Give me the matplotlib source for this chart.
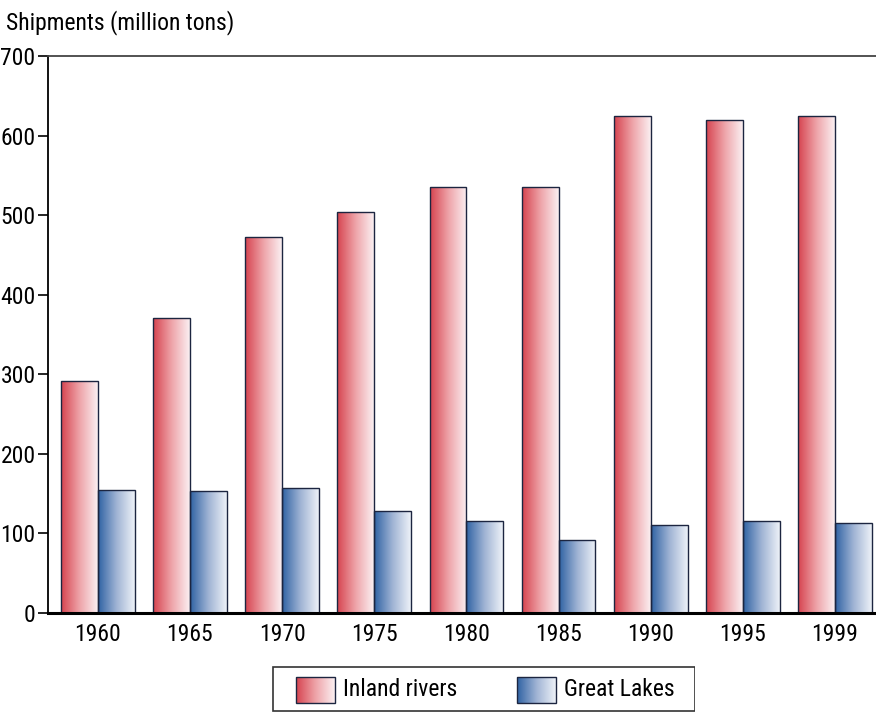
import numpy as np
import matplotlib
matplotlib.use("Agg")
import matplotlib.pyplot as plt
from matplotlib import font_manager
from matplotlib.colors import LinearSegmentedColormap
from matplotlib.patches import Rectangle

# pick a narrow sans face if one is around
installed = {f.name for f in font_manager.fontManager.ttflist}
narrow = [n for n in ['Liberation Sans Narrow', 'Roboto Condensed', 'DejaVu Sans Condensed',
                      'Open Sans Condensed', 'Arial Narrow'] if n in installed]
base = narrow[0] if narrow else 'Roboto'
plt.rcParams['font.family'] = [base, 'DejaVu Sans']
fs = 17 if narrow else 15

# data
years = ['1960', '1965', '1970', '1975', '1980', '1985', '1990', '1995', '1999']
inland_rivers = [291, 371, 472, 504, 535, 535, 624, 620, 625]
great_lakes = [154, 153, 157, 128, 115, 92, 110, 116, 113]
series_names = ['Inland rivers', 'Great Lakes']

red_cmap = LinearSegmentedColormap.from_list('red_grad', ['#d6434f', '#eea3a8', '#fbf0f2'])
blue_cmap = LinearSegmentedColormap.from_list('blue_grad', ['#2f62a3', '#9fb3d4', '#eef2f8'])
grad = np.linspace(0, 1, 256).reshape(1, -1)

fig = plt.figure(figsize=(8.76, 7.12), dpi=100)
ax = fig.add_axes([48 / 876, 99 / 712, 1 - 48 / 876, 557 / 712])

x = np.arange(len(years))
w = 0.4


def gradient_bars(xpos, vals, cmap):
    bars = ax.bar(xpos, vals, width=w, facecolor='none', edgecolor='#1c2540',
                  linewidth=1.0, zorder=3)
    for b in bars:
        x0, y0 = b.get_x(), b.get_y()
        im = ax.imshow(grad, cmap=cmap, extent=[x0, x0 + b.get_width(), y0, y0 + b.get_height()],
                       aspect='auto', interpolation='bilinear', zorder=2)
        im.set_clip_path(b)
    return bars


gradient_bars(x - w / 2, inland_rivers, red_cmap)
gradient_bars(x + w / 2, great_lakes, blue_cmap)

ax.set_xlim(-0.54, 8.445)
ax.set_ylim(0, 700)
ax.set_yticks(range(0, 701, 100))
ax.set_xticks(x)
ax.set_xticklabels(years)
ax.tick_params(axis='x', length=0, pad=7, labelsize=fs)
ax.tick_params(axis='y', direction='out', length=7, width=1.2, pad=2, labelsize=fs)

ax.spines['right'].set_visible(False)
ax.spines['top'].set_color('#444444')
ax.spines['top'].set_linewidth(1.3)
ax.spines['left'].set_linewidth(1.3)
ax.spines['bottom'].set_linewidth(2.2)
ax.spines['bottom'].set_zorder(4)

fig.text(6 / 876, 1 - 23 / 712, 'Shipments (million tons)', fontsize=fs, va='center', ha='left')

# legend box along the bottom
lax = fig.add_axes([272 / 876, 0, (695 - 272) / 876, 46 / 712])
lax.axis('off')
lax.add_patch(Rectangle((272.5, 667), 422, 44, facecolor='white', edgecolor='#333333', linewidth=1.2))
for (px, cmap, label) in [(296, red_cmap, series_names[0]), (517, blue_cmap, series_names[1])]:
    r = Rectangle((px, 677), 39, 26, facecolor='none', edgecolor='#1c2540', linewidth=1.0, zorder=3)
    lax.add_patch(r)
    im = lax.imshow(grad, cmap=cmap, extent=[px, px + 39, 703, 677], aspect='auto', zorder=2)
    im.set_clip_path(r)
    lax.text(px + 47, 690, label, fontsize=fs, va='center', ha='left')
lax.set_xlim(272, 695)
lax.set_ylim(712, 666)

fig.savefig('out.png', dpi=100)
